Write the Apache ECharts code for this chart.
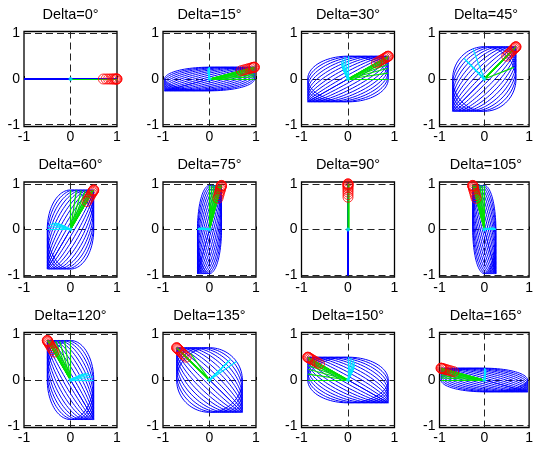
<!DOCTYPE html>
<html><head><meta charset="utf-8">
<script src="https://cdn.jsdelivr.net/npm/echarts@6/dist/echarts.min.js"></script>
<style>html,body{margin:0;padding:0;background:#fff}#c{width:536px;height:450px}</style>
</head><body><div id="c"></div>
<script>
// ---- data ----
const deltas = [0, 15, 30, 45, 60, 75, 90, 105, 120, 135, 150, 165];          // panel parameter (degrees)
const ellipsePhases = [0, 10, 20, 30, 40, 50, 60, 70, 80, 90];                 // phase of each blue ellipse (degrees)
const vectorPhases = [0, 10, 20, 30, 40, 50, 60, 70, 80, 90];                  // phases of green/cyan axes and red markers
const tickValues = [-1, 0, 1];
const tickLabels = ['-1', '0', '1'];
const degenerateMajorAngle = {45: 21, 135: 125}; // circle case: axis direction (deg)
const titlePrefix = 'Delta=';

// ---- layout ----
const yLimit = 1.04;
const colLefts = [24, 163, 301.5, 439.5];
const rowTops = [31.5, 182, 332.5];
const panelW = 93, panelH = 95;
const FONT = 'Liberation Sans, Arial, Helvetica, sans-serif';

const rad = d => d * Math.PI / 180;

function ellipseCoords(a, b, ph) {
  const p = rad(ph), pts = [];
  for (let td = 0; td <= 360; td += 4) {
    const t = rad(td);
    pts.push([a * Math.cos(t), b * Math.cos(t - p)]);
  }
  return pts;
}

function panelGeometry(delta) {
  const a = Math.cos(rad(delta)), b = Math.sin(rad(delta));
  const ellipses = ellipsePhases.map(ph => ({coords: ellipseCoords(a, b, ph)}));
  const greens = [], cyans = [], reds = [];
  vectorPhases.forEach(ph => {
    const p = rad(ph);
    const u = [a, b * Math.cos(p)], v = [0, b * Math.sin(p)];
    const uu = u[0]*u[0] + u[1]*u[1], vv = v[0]*v[0] + v[1]*v[1], uv = u[0]*v[0] + u[1]*v[1];
    const r = t => [u[0]*Math.cos(t) + v[0]*Math.sin(t), u[1]*Math.cos(t) + v[1]*Math.sin(t)];
    const ts = 0.5 * Math.atan2(2 * uv, uu - vv);
    let M = r(ts);
    const m = r(ts + Math.PI / 2);
    const Ml = Math.hypot(M[0], M[1]), ml = Math.hypot(m[0], m[1]);
    if (Math.abs(Ml - ml) < 1e-9 && degenerateMajorAngle[delta] !== undefined) {
      const ang = rad(degenerateMajorAngle[delta]);
      M = [Ml * Math.cos(ang), Ml * Math.sin(ang)];
    }
    if (M[0] * a + M[1] * b < 0) M = [-M[0], -M[1]];
    const Mn = Math.hypot(M[0], M[1]) || 1;
    let perp = [-M[1] / Mn, M[0] / Mn];
    if (delta > 90) perp = [-perp[0], -perp[1]];
    const mLen = Math.min(Ml, ml);
    greens.push({coords: [[0, 0], M]});
    cyans.push({coords: [[0, 0], [perp[0] * mLen, perp[1] * mLen]]});
    const c = Math.cos(p / 2);
    reds.push([a * c, b * c]);
  });
  return {ellipses, greens, cyans, reds};
}

const grids = [], xAxes = [], yAxes = [], series = [], graphics = [];
deltas.forEach((delta, i) => {
  const col = i % 4, row = Math.floor(i / 4);
  const left = colLefts[col], top = rowTops[row];
  grids.push({left: left, top: top, width: panelW, height: panelH, show: true,
    borderColor: '#000', borderWidth: 1.3, backgroundColor: '#fff', containLabel: false});
  const labelFmt = v => tickLabels[tickValues.indexOf(Math.round(v))];
  xAxes.push({type: 'value', gridIndex: i, min: -1, max: 1,
    axisLine: {show: false}, splitLine: {show: false},
    axisTick: {show: true, inside: true, length: 3, customValues: tickValues, lineStyle: {color: '#000'}},
    axisLabel: {show: true, customValues: tickValues, color: '#000', fontSize: 14, fontFamily: FONT, margin: 4,
      formatter: labelFmt}});
  yAxes.push({type: 'value', gridIndex: i, min: -yLimit, max: yLimit,
    axisLine: {show: false}, splitLine: {show: false},
    axisTick: {show: true, inside: true, length: 3, customValues: tickValues, lineStyle: {color: '#000'}},
    axisLabel: {show: true, customValues: tickValues, color: '#000', fontSize: 14, fontFamily: FONT, margin: 4,
      formatter: labelFmt}});
  graphics.push({type: 'text', x: left + panelW / 2, y: top - 17,
    style: {text: titlePrefix + delta + '°', font: '14.5px ' + FONT, fill: '#000',
      textAlign: 'center', textVerticalAlign: 'middle'}});

  const g = panelGeometry(delta);
  const base = {xAxisIndex: i, yAxisIndex: i, coordinateSystem: 'cartesian2d', silent: true};
  const dashData = tickValues.map(y => ({coords: [[-1, y], [1, y]]}))
    .concat([{coords: [[0, -yLimit], [0, yLimit]]}]);
  series.push(Object.assign({type: 'lines', data: dashData, z: 1,
    lineStyle: {color: '#222', width: 1, type: [7, 4], opacity: 1}}, base));
  series.push(Object.assign({type: 'lines', polyline: true, data: g.ellipses, z: 2,
    lineStyle: {color: '#0000ff', width: 1, opacity: 1}}, base));
  series.push(Object.assign({type: 'lines', data: g.greens, z: 3,
    lineStyle: {color: '#00e000', width: 1.2, opacity: 1}}, base));
  series.push(Object.assign({type: 'lines', data: g.cyans, z: 4,
    lineStyle: {color: '#00e5ff', width: 1.2, opacity: 1}}, base));
  series.push(Object.assign({type: 'scatter', data: [[0, 0]], symbol: 'circle', symbolSize: 4, z: 4,
    itemStyle: {color: '#00e5ff'}}, base));
  series.push(Object.assign({type: 'scatter', data: g.reds, symbol: 'circle', symbolSize: 10, z: 5,
    itemStyle: {color: 'rgba(0,0,0,0)', borderColor: '#ff0000', borderWidth: 1}}, base));
});

const chart = echarts.init(document.getElementById('c'), null, {renderer: 'canvas'});
chart.setOption({
  animation: false,
  backgroundColor: '#fff',
  grid: grids, xAxis: xAxes, yAxis: yAxes, series: series, graphic: graphics
});
</script></body></html>
